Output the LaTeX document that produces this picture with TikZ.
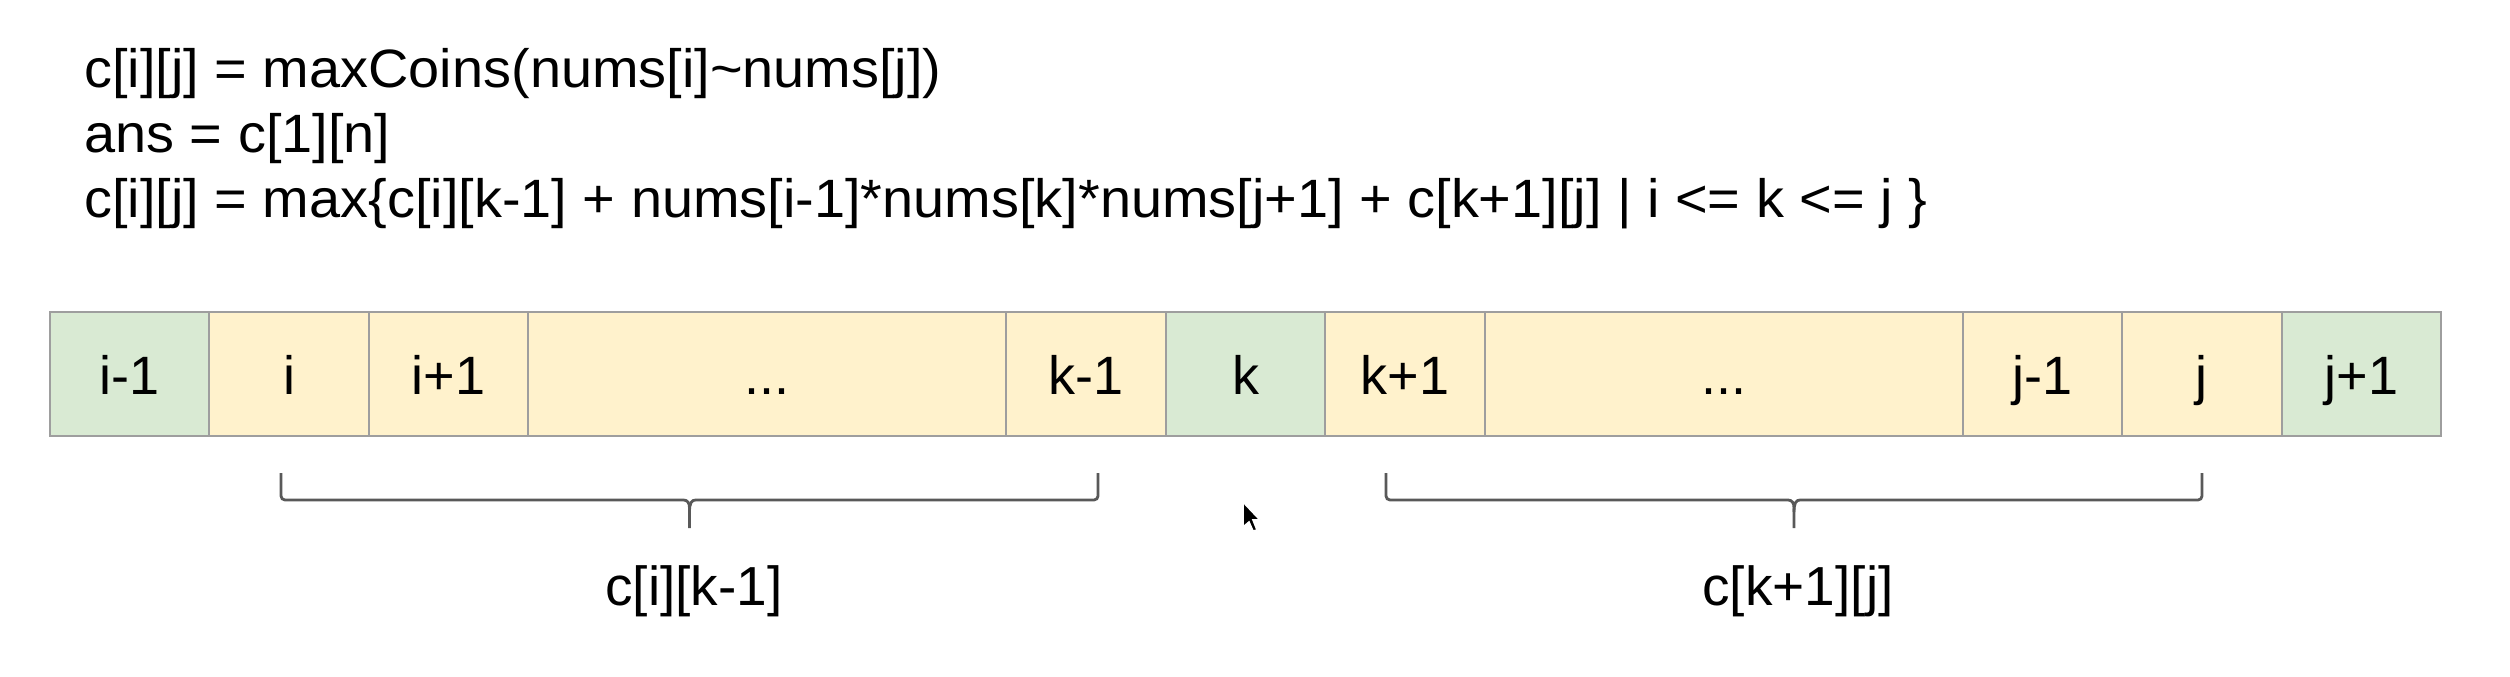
\documentclass[tikz,border=0pt]{standalone}
\usepackage{fontspec}
\setmainfont{Liberation Sans}
\newfontfamily\titlefont[FakeStretch=1.035]{Liberation Sans}
\usetikzlibrary{positioning,calc}
\definecolor{endgreen}{HTML}{D9EAD3}
\definecolor{inyellow}{HTML}{FFF2CC}
\definecolor{cellgray}{HTML}{9E9E9E}

\begin{document}
\begin{tikzpicture}[x=0.5pt,y=-0.5pt,node distance=0pt,
		cell/.style={draw=cellgray,line width=1pt,minimum height=62pt,minimum width=79.7pt,
			inner sep=0pt,outer sep=0pt,text height=20pt,text depth=0pt,font=\fontsize{27}{30}\selectfont},
		edgecell/.style={cell,fill=endgreen},
		incell/.style={cell,fill=inyellow},
		gapcell/.style={incell,minimum width=239.1pt},
		bracket/.style={draw=black!65,line width=1.4pt,rounded corners=2pt},
		formula/.style={anchor=base west,inner sep=0pt,font=\titlefont\fontsize{27}{30}\selectfont},
		sublabel/.style={anchor=base,inner sep=0pt,font=\fontsize{27.5}{30}\selectfont}]
	\useasboundingbox (0,0) rectangle (2510,676);

	% formulas
	\node[formula] (f1) at (84,87) {c[i][j] = maxCoins(nums[i]\textasciitilde nums[j])};
	\node[formula] (f2) at (84,152) {ans = c[1][n]};
	\node[formula] (f3) at (84,217) {c[i][j] = max\{c[i][k-1] + nums[i-1]*nums[k]*nums[j+1] + c[k+1][j] | i <= k <= j \}};

	% the array
	\node[edgecell] (im1) at (129.7,374) {i-1};
	\node[incell] (i) [right=of im1] {i};
	\node[incell] (ip1) [right=of i] {i+1};
	\node[gapcell] (d1) [right=of ip1] {...};
	\node[incell] (km1) [right=of d1] {k-1};
	\node[edgecell] (k) [right=of km1] {k};
	\node[incell] (kp1) [right=of k] {k+1};
	\node[gapcell] (d2) [right=of kp1] {...};
	\node[incell] (jm1) [right=of d2] {j-1};
	\node[incell] (j) [right=of jm1] {j};
	\node[edgecell] (jp1) [right=of j] {j+1};

	% brackets
	\coordinate (la) at (281,473);
	\coordinate (lb) at (1098,473);
	\coordinate (lt) at (689.5,528);
	\coordinate (ra) at (1386,473);
	\coordinate (rb) at (2202,473);
	\coordinate (rt) at (1794,528);
	\draw[bracket] (la) -- ++(0,27) -- ($(lt)+(-10,-28)$) .. controls ($(lt)+(-2,-28)$) and ($(lt)+(0,-25)$) .. ($(lt)+(0,-16)$) -- (lt);
	\draw[bracket] (lb) -- ++(0,27) -- ($(lt)+(10,-28)$) .. controls ($(lt)+(2,-28)$) and ($(lt)+(0,-25)$) .. ($(lt)+(0,-16)$);
	\draw[bracket] (ra) -- ++(0,27) -- ($(rt)+(-10,-28)$) .. controls ($(rt)+(-2,-28)$) and ($(rt)+(0,-25)$) .. ($(rt)+(0,-16)$) -- (rt);
	\draw[bracket] (rb) -- ++(0,27) -- ($(rt)+(10,-28)$) .. controls ($(rt)+(2,-28)$) and ($(rt)+(0,-25)$) .. ($(rt)+(0,-16)$);

	\node[sublabel] (cl) at (694,605) {c[i][k-1]};
	\node[sublabel] (cr) at (1798,605) {c[k+1][j]};

	% mouse pointer
	\filldraw[fill=black,draw=white,line width=0.8pt] (1243,502) -- ++(0,25) -- ++(6,-5) -- ++(4,9) -- ++(4,-1) -- ++(-4,-10) -- ++(7,0) -- cycle;
\end{tikzpicture}
\end{document}
